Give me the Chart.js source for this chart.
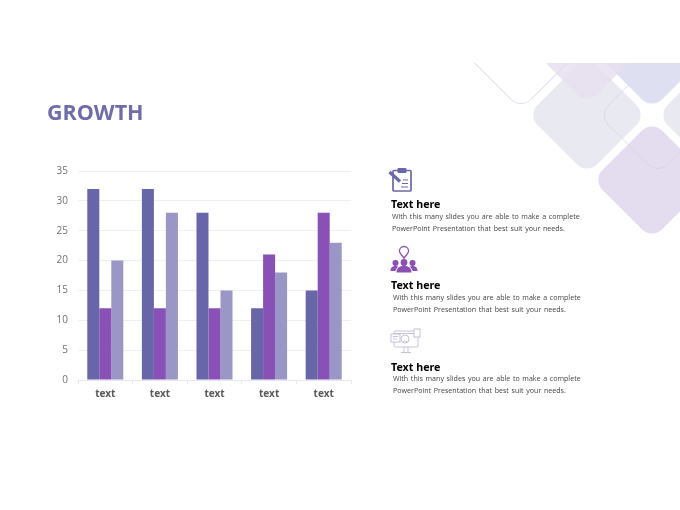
<!doctype html>
<html>
    <head>
        <title>Growth</title>
        <meta charset="utf-8">
        <script src="https://cdn.jsdelivr.net/npm/chart.js@4/dist/chart.umd.min.js"></script>
        <style>
            html, body { margin: 0; padding: 0; background: #fff; }
            #page { position: relative; width: 680px; height: 510px; overflow: hidden; font-family: "Noto Sans", sans-serif; }
            #deco { position: absolute; left: 0; top: 63px; }
            #title { position: absolute; left: 47px; top: 96px; font: bold 21.5px/32px "Open Sans", sans-serif; color: #706ba9; will-change: transform; }
            #chartcont { position: absolute; left: 40px; top: 150px; width: 320px; height: 260px; }
            .head { position: absolute; font-weight: 700; font-size: 10.7px; line-height: 16px; color: #000; white-space: nowrap; will-change: transform; }
            .body { position: absolute; font-family: "Open Sans", sans-serif; font-size: 7.1px; line-height: 11.5px; color: #444; white-space: nowrap; word-spacing: 0.8px; will-change: transform; }
            .icon { position: absolute; }
        </style>
    </head>

    <body>
        <div id="page">
            <svg id="deco" width="680" height="447">
                <g transform="translate(0,-63)">
                    <rect x="-42" y="-42" width="84" height="84" rx="14" transform="translate(587,115) rotate(45)" fill="#e9e9f2"/>
                    <rect x="-42" y="-42" width="84" height="84" rx="14" transform="translate(717,115) rotate(45)" fill="#e9e9f2"/>
                    <rect x="-42" y="-42" width="84" height="84" rx="14" transform="translate(652,180) rotate(45)" fill="#e4dcef"/>
                    <rect x="-42" y="-42" width="84" height="84" rx="14" transform="translate(658,115) rotate(45)" fill="none" stroke="#d6d3e2" stroke-width="0.7"/>
                    <rect x="-42" y="-42" width="84" height="84" rx="14" transform="translate(652,50) rotate(45)" fill="#dedff0"/>
                    <rect x="-42" y="-42" width="84" height="84" rx="14" transform="translate(587,45) rotate(45)" fill="#e7dff0" fill-opacity="0.85"/>
                    <rect x="-42" y="-42" width="84" height="84" rx="14" transform="translate(521,50) rotate(45)" fill="none" stroke="#e2deea" stroke-width="1"/>
                </g>
            </svg>

            <div id="title">GROWTH</div>

            <div id="chartcont"><canvas id="myChart"></canvas></div>

            <svg class="icon" style="left:388px;top:167px" width="26" height="26" viewBox="0 0 26 26">
                <rect x="5" y="3.5" width="18" height="20.5" rx="1" fill="none" stroke="#6c67a7" stroke-width="1.7"/>
                <rect x="9.500" y="1" width="9" height="5" rx="1" fill="#6c67a7"/>
                <path d="M1.5 5 L12 14.5" stroke="#6c67a7" stroke-width="3.200"/>
                <path d="M15 13h5M14 16.5h6M13 20h7" stroke="#6c67a7" stroke-width="1.100"/>
            </svg>
            <div class="head" style="left:391px;top:196px">Text here</div>
            <div class="body" style="left:392px;top:211px">With this many slides you are able to make a complete<br>PowerPoint Presentation that best suit your needs.</div>

            <svg class="icon" style="left:390px;top:245px" width="28" height="28" viewBox="0 0 28 28">
                <path d="M14 1.5a4.6 4.6 0 0 1 4.6 4.6c0 2.6-3 4.4-4.6 7-1.600-2.600-4.600-4.400-4.600-7A4.600 4.600 0 0 1 14 1.500z" fill="none" stroke="#8a50b4" stroke-width="1.300"/>
                <g fill="#8a50b4">
                    <circle cx="14" cy="17.500" r="3.400"/><circle cx="5.500" cy="18" r="3"/><circle cx="22.500" cy="18" r="3"/>
                    <path d="M6.500 27.500c0-4.500 3-6.800 7.500-6.800s7.500 2.300 7.500 6.800z"/>
                    <path d="M0.500 26c0-3.500 2-5 5-5 1.300 0 2.200.3 2.800.8-1.700 1.200-2.500 2.600-2.800 4.200z"/>
                    <path d="M27.500 26c0-3.500-2-5-5-5-1.300 0-2.200.3-2.800.8 1.700 1.200 2.500 2.600 2.800 4.200z"/>
                </g>
            </svg>
            <div class="head" style="left:391px;top:277px">Text here</div>
            <div class="body" style="left:393px;top:292px">With this many slides you are able to make a complete<br>PowerPoint Presentation that best suit your needs.</div>

            <svg class="icon" style="left:390px;top:328px" width="32" height="26" viewBox="0 0 32 26" fill="none" stroke="#b5b2d1" stroke-width="0.800">
                <rect x="4" y="3" width="24" height="16" rx="1"/>
                <path d="M4 5.500h24"/>
                <rect x="1" y="6" width="9" height="8" fill="#fff"/>
                <path d="M3 8.500h5M3 11h4"/>
                <circle cx="15" cy="11" r="4"/>
                <path d="M13 14.500c0-2 4-2 4 0"/>
                <rect x="24" y="1" width="6" height="8" fill="#fff"/>
                <path d="M14 19v5M18 19v5M11 24.500h10"/>
            </svg>
            <div class="head" style="left:391px;top:359px">Text here</div>
            <div class="body" style="left:393px;top:373px">With this many slides you are able to make a complete<br>PowerPoint Presentation that best suit your needs.</div>
        </div>

        <script>
            const categories = ['text', 'text', 'text', 'text', 'text'];
            const seriesA = [32, 32, 28, 12, 15];
            const seriesB = [12, 12, 12, 21, 28];
            const seriesC = [20, 28, 15, 18, 23];
            const yTicks = [0, 5, 10, 15, 20, 25, 30, 35];

            const COLORS = ['#6866a8', '#8950b5', '#9a96c6'];

            function makeDataset(values, index) {
                return {
                    data: values,
                    backgroundColor: COLORS[index],
                    barPercentage: 1,
                    categoryPercentage: 0.66
                };
            }

            var ctx = document.getElementById('myChart').getContext('2d');
            var myChart = new Chart(ctx, {
                type: 'bar',
                data: {
                    labels: categories,
                    datasets: [makeDataset(seriesA, 0), makeDataset(seriesB, 1), makeDataset(seriesC, 2)]
                },
                options: {
                    responsive: true,
                    maintainAspectRatio: false,
                    animation: false,
                    layout: { padding: { top: 21, right: 9, bottom: 0, left: 0 } },
                    plugins: {
                        legend: { display: false },
                        title: { display: false },
                        tooltip: { enabled: false }
                    },
                    scales: {
                        x: {
                            grid: { drawOnChartArea: false, drawTicks: true, tickLength: 4, color: '#e6e6ee' },
                            border: { color: '#e6e6ee' },
                            ticks: {
                                color: '#595959',
                                padding: 4,
                                maxRotation: 0,
                                font: { family: '"Noto Sans", sans-serif', size: 10, weight: 'bold' }
                            },
                            afterFit: function (scale) { scale.height = 30; }
                        },
                        y: {
                            min: 0,
                            max: 35,
                            afterBuildTicks: function (scale) {
                                scale.ticks = yTicks.map(function (v) { return { value: v }; });
                            },
                            grid: { drawTicks: false, color: '#eeeef3' },
                            border: { display: false },
                            ticks: {
                                color: '#707070',
                                padding: 10,
                                font: { family: '"Open Sans", sans-serif', size: 10 }
                            },
                            afterFit: function (scale) { scale.width = 38; }
                        }
                    }
                }
            });
        </script>
    </body>

</html>
